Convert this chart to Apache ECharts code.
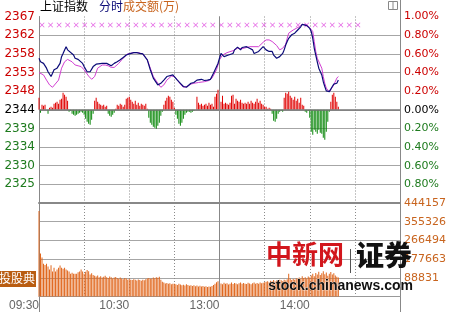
<!DOCTYPE html>
<html><head><meta charset="utf-8">
<script src="https://cdn.jsdelivr.net/npm/echarts@6/dist/echarts.min.js"></script>
<style>html,body{margin:0;padding:0;background:#fff}#c{width:450px;height:312px}</style>
</head><body><div id="c"></div>
<script>
// ---- data ----
const prevClose = 2343.65;
const priceTimes = ['09:30','09:31','09:32','09:33','09:35','09:36','09:37','09:38','09:39','09:40','09:42','09:44','09:45','09:46','09:48','09:49','09:50','09:53','09:54','09:55','09:56','09:57','09:59','10:00','10:02','10:03','10:04','10:06','10:08','10:12','10:15','10:16','10:18','10:20','10:22','10:24','10:26','10:28','10:30','10:33','10:35','10:37','10:39','10:42','10:44','10:46','10:49','10:50','10:51','10:52','10:53','10:54','10:55','10:56','10:59','11:00','11:02','11:04','11:06','11:08','11:09','11:11','11:13','11:15','11:18','11:20','11:22','11:24','11:26','11:29','13:00','13:01','13:02','13:03','13:04','13:06','13:09','13:10','13:12','13:14','13:15','13:18','13:20','13:22','13:23','13:24','13:26','13:29','13:30','13:31','13:33','13:35','13:36','13:38','13:39','13:40','13:42','13:43','13:44','13:45','13:46','13:48','13:49','13:50','13:51','13:52','13:53','13:54','13:55','13:56','13:58','13:59','14:00','14:01','14:02','14:03','14:04','14:05','14:06','14:08','14:09','14:10','14:11','14:12','14:13','14:14','14:15','14:16','14:18','14:19'];
const priceValues = [2356.6,2355.7,2356.2,2355.3,2354.1,2353.2,2353.7,2352.0,2352.8,2353.7,2354.1,2355.3,2357.0,2357.8,2359.5,2358.7,2358.3,2357.4,2356.6,2357.0,2356.3,2356.6,2355.3,2354.5,2353.2,2352.8,2353.2,2354.5,2355.1,2355.3,2355.3,2354.9,2354.7,2355.3,2355.7,2356.2,2356.8,2357.4,2357.7,2358.0,2358.0,2357.8,2357.7,2356.2,2353.7,2351.6,2349.9,2349.5,2350.3,2349.9,2351.1,2350.7,2352.0,2352.4,2352.4,2352.0,2351.1,2350.3,2349.5,2349.3,2349.6,2350.3,2350.5,2351.1,2351.3,2351.0,2351.1,2351.3,2352.8,2355.3,2356.6,2357.8,2358.3,2357.0,2357.0,2357.4,2357.8,2358.7,2359.4,2358.7,2359.3,2359.5,2359.1,2358.7,2357.8,2357.8,2358.3,2359.5,2359.1,2358.7,2358.3,2358.3,2357.4,2356.6,2356.2,2357.0,2357.8,2358.7,2359.9,2360.8,2361.6,2362.5,2362.0,2362.9,2362.9,2363.7,2364.1,2364.5,2365.1,2365.0,2364.8,2364.5,2364.1,2363.3,2361.6,2359.1,2357.4,2355.7,2354.1,2352.4,2350.7,2349.5,2348.4,2348.2,2348.2,2348.6,2349.5,2350.1,2350.3,2351.1];
const avgTimes = ['09:30','09:33','09:35','09:37','09:39','09:40','09:43','09:45','09:47','09:49','09:52','09:54','09:56','09:58','10:00','10:03','10:05','10:07','10:09','10:12','10:14','10:16','10:18','10:20','10:23','10:25','10:27','10:29','10:33','10:36','10:39','10:42','10:44','10:46','10:49','10:51','10:53','10:55','10:58','11:00','11:02','11:04','11:06','11:09','11:11','11:13','11:16','11:20','11:23','11:25','11:28','13:00','13:02','13:05','13:09','13:12','13:15','13:20','13:26','13:29','13:31','13:33','13:35','13:38','13:40','13:42','13:44','13:45','13:46','13:49','13:51','13:53','13:55','13:58','14:00','14:02','14:03','14:04','14:05','14:08','14:09','14:10','14:11','14:13','14:14','14:16','14:18','14:19'];
const avgValues = [2353.0,2352.4,2351.1,2349.9,2349.3,2349.5,2351.1,2354.1,2355.7,2356.3,2355.7,2354.9,2354.7,2354.5,2353.7,2352.1,2351.3,2352.0,2354.1,2354.9,2354.9,2354.7,2354.3,2354.3,2355.3,2356.2,2357.0,2357.7,2358.0,2358.0,2357.7,2356.2,2354.1,2352.0,2350.3,2349.3,2349.9,2351.1,2352.1,2352.0,2351.1,2350.1,2349.3,2349.6,2350.1,2350.3,2350.5,2350.7,2351.0,2351.6,2353.7,2356.2,2357.4,2358.0,2358.5,2359.1,2359.0,2359.5,2359.5,2360.6,2361.2,2361.2,2360.8,2359.8,2358.7,2359.1,2360.1,2361.6,2362.9,2363.7,2364.1,2364.5,2365.1,2365.0,2364.3,2363.3,2360.8,2358.3,2356.6,2354.1,2352.0,2350.3,2349.1,2348.1,2348.6,2349.9,2351.6,2352.0];
// one value per trading minute from 09:30 (arbitrary strength units, + red / - green)
const flowValues = [12,-3,5,4,5,0,-4,2,3,2, 6,7,8,6,10,11,17,15,13,9, -2,-1,-4,-5,-6,-5,-4,-3,-2,-3, -5,-9,-12,-14,-15,-10,-4,9,12,8, 6,5,4,5,3,4,-4,-6,-7,-5, -3,1,5,4,6,5,3,5,11,12, 13,10,8,6,9,5,7,4,6,5, 4,6,1,-8,-13,-15,-17,-18,-19,-16, -13,-6,-2,5,9,12,14,13,10,8, 2,-5,-9,-14,-16,-13,-9,-5,-3,-2, -2,-3,-2,-1,0,13,7,5,6,4, 5,6,4,7,5,6,3,13,16,20, 29,8,14,6,7,6,5,7,14,15, 6,11,9,8,10,7,6,7,6,8, 6,9,7,6,8,11,7,9,6,5, 3,3,1,2,1,-4,-11,-12,-9,-4, -2,-1,-2,12,17,16,18,14,12,10, 13,9,11,7,12,5,4,-2,-3,-1, -8,-22,-25,-20,-22,-24,-20,-23,-24,-28, -30,-22,-12,-2,8,15,17,13,8,3];
// turnover per trading minute from 09:30, in thousands of 万
const volumeThousands = [406,204,185,156,150,156,143,128,148,119,137,119,128,137,147,137,132,137,128,124,119,108,113,108,108,108,115,119,128,119,108,
 118,126,120,105,110,102,98,95,100,92,96,90,94,99,92,88,95,91,86,90,93,88,84,90,86,82,88,85,80,84,
 80,78,82,79,76,81,78,75,80,77,82,85,88,84,86,90,87,92,89,94,80,70,66,62,64,60,63,58,61,60,
 58,55,60,57,53,56,52,58,55,51,54,50,53,49,52,48,51,47,50,46,49,45,48,46,50,55,60,68,72,
 179,
 62,58,65,60,63,57,61,66,59,64,62,58,63,67,60,64,61,59,65,62,58,63,66,60,64,61,67,63,65,68,
 70,72,68,75,73,78,71,76,74,80,77,72,79,76,82,108,85,78,83,80,87,84,90,86,96,88,92,86,95,90,
 100,108,96,112,104,118,102,110,120,106,114,98,108,116,104,110,100,94,90];
const volumeMax = 444157;
const xLabelTimes = ['09:30','10:30','13:00','14:00'];
const markerCount = 38, markerFirst = 2, markerLast = 212, markerLevel = 0.909;

// ---- helpers ----
const toMinute = t => { const [h, m] = t.split(':').map(Number); const tot = h * 60 + m; return tot <= 690 ? tot - 570 : 120 + tot - 780; };
const pct = v => (v / prevClose - 1) * 100;
const priceData = priceTimes.map((t, i) => [toMinute(t), pct(priceValues[i])]);
const avgData = avgTimes.map((t, i) => [toMinute(t), pct(avgValues[i])]);
const flowData = flowValues.map((v, i) => [i, v]);
const volData = volumeThousands.map((v, i) => [i, v * 1000]);
const markerData = Array.from({length: markerCount}, (_, i) => [markerFirst + i * (markerLast - markerFirst) / (markerCount - 1), markerLevel]);
const xLabelMinutes = xLabelTimes.map(toMinute);

const RED = '#cc0000', GREEN = '#1e7b1e';
const sign = v => v > 1e-6 ? 'up' : (v < -1e-6 ? 'dn' : 'z');
const richFor = size => ({
  up: {color: RED, fontSize: size, fontFamily: 'DejaVu Sans'},
  dn: {color: GREEN, fontSize: size, fontFamily: 'DejaVu Sans'},
  z: {color: '#000', fontSize: size, fontFamily: 'DejaVu Sans'}
});
const vSplit = {show: true, showMinLine: false, showMaxLine: false, lineStyle: {color: '#8a8a8a', type: [1, 2], width: 1}};

const chart = echarts.init(document.getElementById('c'));
chart.setOption({
  animation: false,
  backgroundColor: '#fff',
  textStyle: {fontFamily: 'DejaVu Sans'},
  grid: [
    {left: 39, right: 50, top: 16.5, height: 186.5},
    {left: 39, right: 50, top: 203, height: 93.5}
  ],
  xAxis: [
    {gridIndex: 0, type: 'value', min: 0, max: 240, interval: 30,
     axisLine: {show: true, onZero: false, lineStyle: {color: '#888', width: 2}},
     axisTick: {show: false}, axisLabel: {show: false}, splitLine: vSplit},
    {gridIndex: 1, type: 'value', min: 0, max: 240, interval: 30,
     axisLine: {show: true, onZero: false, lineStyle: {color: '#999', width: 1}},
     axisTick: {show: false},
     axisLabel: {show: true, align: 'right', margin: 3, color: '#666', fontSize: 12, fontFamily: 'Liberation Sans',
       showMinLabel: true, showMaxLabel: false,
       formatter: v => { const i = xLabelMinutes.indexOf(v); return i >= 0 ? xLabelTimes[i] : ''; }},
     splitLine: vSplit}
  ],
  yAxis: [
    {gridIndex: 0, type: 'value', position: 'left', min: -1, max: 1, interval: 0.2,
     axisLine: {show: true, lineStyle: {color: '#888'}}, axisTick: {show: false},
     axisLabel: {showMinLabel: false, showMaxLabel: true, margin: 4,
       formatter: v => '{' + sign(v) + '|' + Math.round(prevClose * (1 + v / 100)) + '}', rich: richFor(12)},
     splitLine: {show: true, showMinLine: false, showMaxLine: false, lineStyle: {color: '#a6a6a6', width: 1}}},
    {gridIndex: 0, type: 'value', position: 'right', min: -1, max: 1, interval: 0.2,
     axisLine: {show: true, lineStyle: {color: '#888'}}, axisTick: {show: false},
     axisLabel: {showMinLabel: false, showMaxLabel: true, margin: 4,
       formatter: v => '{' + sign(v) + '|' + Math.abs(v).toFixed(2) + '%}', rich: richFor(11)},
     splitLine: {show: false}},
    {gridIndex: 0, type: 'value', min: -93.25, max: 93.25, show: false},
    {gridIndex: 1, type: 'value', position: 'right', min: 0, max: volumeMax, interval: volumeMax / 5,
     axisLine: {show: true, lineStyle: {color: '#888'}}, axisTick: {show: false},
     axisLabel: {showMinLabel: false, showMaxLabel: true, margin: 4, color: '#c8641e', fontSize: 11, fontFamily: 'DejaVu Sans',
       formatter: v => String(Math.round(v))},
     splitLine: {show: true, showMinLine: false, showMaxLine: false, lineStyle: {color: '#a6a6a6', width: 1}}},
    {gridIndex: 1, type: 'value', position: 'left', min: 0, max: 1,
     axisLine: {show: true, lineStyle: {color: '#888'}}, axisTick: {show: false}, axisLabel: {show: false}, splitLine: {show: false}}
  ],
  series: [
    {type: 'bar', xAxisIndex: 0, yAxisIndex: 2, data: flowData, barWidth: 1, z: 2,
     itemStyle: {color: p => p.value[1] >= 0 ? '#e00000' : '#0a870a'}},
    {type: 'bar', xAxisIndex: 1, yAxisIndex: 3, data: volData, barWidth: 1, z: 2,
     itemStyle: {color: '#e0661c'},
     markLine: {silent: true, symbol: 'none', label: {show: false},
       data: [{xAxis: 120, lineStyle: {color: '#888', width: 1, type: 'solid'}}]}},
    {type: 'line', xAxisIndex: 0, yAxisIndex: 0, data: avgData, showSymbol: false, z: 4,
     lineStyle: {color: '#d23fd2', width: 1}},
    {type: 'line', xAxisIndex: 0, yAxisIndex: 0, data: priceData, showSymbol: false, z: 5,
     lineStyle: {color: '#0b0b78', width: 1.2},
     markLine: {silent: true, symbol: 'none', label: {show: false},
       data: [
         {yAxis: 0, lineStyle: {color: '#777', width: 1.6, type: 'solid'}},
         {xAxis: 120, lineStyle: {color: '#888', width: 1, type: 'solid'}}
       ]}},
    {type: 'scatter', xAxisIndex: 0, yAxisIndex: 0, data: markerData, z: 3,
     symbol: 'path://M0,1L1,0L5,4L9,0L10,1L6,5L10,9L9,10L5,6L1,10L0,9L4,5Z', symbolSize: 5,
     itemStyle: {color: '#dd3cdd'}}
  ],
  graphic: [
    {type: 'text', left: 40, top: 0, style: {text: '上证指数', fill: '#000', font: '12px "Noto Sans CJK SC"'}},
    {type: 'text', left: 99, top: 0, style: {text: '分时', fill: '#0b0b78', font: '12px "Noto Sans CJK SC"'}},
    {type: 'text', left: 123, top: 0, style: {text: '成交额(万)', fill: '#c8641e', font: '12px "Noto Sans CJK SC"'}},
    {type: 'rect', shape: {x: 388.5, y: 1.5, width: 9, height: 8}, style: {fill: '#fff', stroke: '#888', lineWidth: 1}},
    {type: 'line', shape: {x1: 393, y1: 1.5, x2: 393, y2: 9.5}, style: {stroke: '#888', lineWidth: 1}},
    {type: 'line', shape: {x1: 400.5, y1: 0, x2: 400.5, y2: 312}, style: {stroke: '#888', lineWidth: 1}},
    {type: 'line', shape: {x1: 39.5, y1: 296, x2: 39.5, y2: 312}, style: {stroke: '#888', lineWidth: 1}},
    {type: 'rect', shape: {x: 0, y: 271, width: 36, height: 16}, style: {fill: '#b95d12'}, z: 10},
    {type: 'text', left: -1, top: 272, z: 11, style: {text: '投股典', fill: '#fff', font: '12px "Noto Sans CJK SC"'}},
    {type: 'text', left: 266, top: 241, z: 10, style: {text: '中新网', fill: '#d2161c', font: 'bold 26px "Noto Sans CJK SC"'}},
    {type: 'line', z: 10, shape: {x1: 350.5, y1: 249, x2: 350.5, y2: 273}, style: {stroke: '#555', lineWidth: 1}},
    {type: 'text', left: 356, top: 241, z: 10, style: {text: '证券', fill: '#111', font: '900 28px "Noto Sans CJK SC"'}},
    {type: 'text', left: 268, top: 279, z: 10, style: {text: 'stock.chinanews.com', fill: '#111', font: 'bold 14px "Liberation Sans"', stroke: '#fff', lineWidth: 0.5}}
  ]
});
</script></body></html>
